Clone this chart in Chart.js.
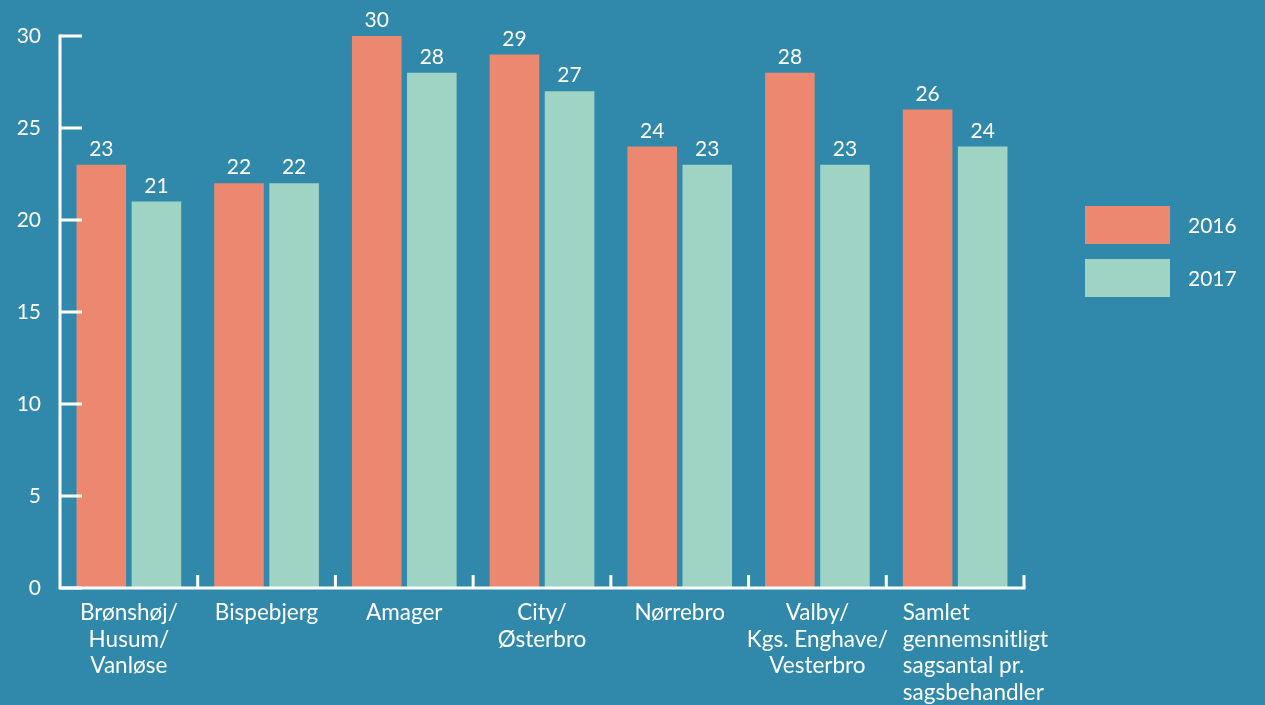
<!DOCTYPE html>
<html>
<head>
<meta charset="utf-8">
<script src="https://cdn.jsdelivr.net/npm/chart.js@4/dist/chart.umd.min.js"></script>
<style>
    html, body { margin: 0; padding: 0; background: #3089ab; }
    #wrap { width: 1265px; height: 705px; }
</style>
</head>
<body>
<div id="wrap"><canvas id="caseChart" width="1265" height="705"></canvas></div>
<script>
const districts = [
    ["Brønshøj/", "Husum/", "Vanløse"],
    ["Bispebjerg"],
    ["Amager"],
    ["City/", "Østerbro"],
    ["Nørrebro"],
    ["Valby/", "Kgs. Enghave/", "Vesterbro"],
    ["Samlet", "gennemsnitligt", "sagsantal pr.", "sagsbehandler"]
];
const values2016 = [23, 22, 30, 29, 24, 28, 26];
const values2017 = [21, 22, 28, 27, 23, 23, 24];
const yTicks = [0, 5, 10, 15, 20, 25, 30];

const fontFamily = "Lato, 'Open Sans', sans-serif";
const white = "#ffffff";

// axis lines, tick marks, category labels, value labels and the legend
const decorations = {
    id: "decorations",
    afterDatasetsDraw(chart) {
        const { ctx, chartArea, scales } = chart;
        const x = scales.x;
        const y = scales.y;
        const left = chartArea.left;
        const base = y.getPixelForValue(0);
        const top = y.getPixelForValue(yTicks[yTicks.length - 1]);

        ctx.save();
        ctx.strokeStyle = white;
        ctx.lineWidth = 3;
        ctx.beginPath();
        ctx.moveTo(left, top - 1.5);
        ctx.lineTo(left, base);
        ctx.lineTo(chartArea.right + 1.5, base);
        ctx.stroke();

        ctx.beginPath();
        yTicks.forEach((v) => {
            const py = y.getPixelForValue(v);
            ctx.moveTo(left, py);
            ctx.lineTo(left + 22, py);
        });
        const step = (chartArea.right - left) / districts.length;
        for (let i = 1; i <= districts.length; i += 1) {
            const px = left + step * i;
            ctx.moveTo(px, base);
            ctx.lineTo(px, base - 13);
        }
        ctx.stroke();

        // values above the bars
        ctx.fillStyle = white;
        ctx.font = "21px " + fontFamily;
        ctx.textAlign = "center";
        ctx.textBaseline = "bottom";
        chart.data.datasets.forEach((ds, di) => {
            chart.getDatasetMeta(di).data.forEach((bar, i) => {
                ctx.fillText(String(ds.data[i]), bar.x, bar.y - 5);
            });
        });

        // category labels, the last one starts at its first bar
        ctx.font = "22.5px " + fontFamily;
        ctx.textBaseline = "middle";
        const firstBars = chart.getDatasetMeta(0).data;
        chart.data.labels.forEach((lines, i) => {
            const last = i === chart.data.labels.length - 1;
            ctx.textAlign = last ? "left" : "center";
            const px = last ? firstBars[i].x - firstBars[i].width / 2 : x.getPixelForTick(i);
            lines.forEach((line, k) => {
                ctx.fillText(line, px, base + 25 + k * 26.5);
            });
        });

        // legend
        ctx.font = "21px " + fontFamily;
        ctx.textAlign = "left";
        chart.data.datasets.forEach((ds, di) => {
            const by = 206 + di * 53;
            ctx.fillStyle = ds.backgroundColor;
            ctx.fillRect(1085, by, 85, 38);
            ctx.fillStyle = white;
            ctx.fillText(ds.label, 1188, by + 20);
        });
        ctx.restore();
    }
};

new Chart(document.getElementById("caseChart"), {
    type: "bar",
    data: {
        labels: districts,
        datasets: [
            { label: "2016", data: values2016, backgroundColor: "#ec8870" },
            { label: "2017", data: values2017, backgroundColor: "#9fd3c4" }
        ]
    },
    options: {
        responsive: false,
        animation: false,
        categoryPercentage: 0.8,
        barPercentage: 0.9,
        layout: { padding: { top: 36, right: 241, bottom: 0, left: 0 } },
        plugins: {
            legend: { display: false },
            tooltip: { enabled: false }
        },
        scales: {
            x: {
                grid: { display: false, drawTicks: false },
                border: { display: false },
                afterFit: (scale) => { scale.height = 117; },
                ticks: { display: false, autoSkip: false }
            },
            y: {
                min: 0,
                max: 30,
                grid: { display: false, drawTicks: false },
                border: { display: false },
                afterFit: (scale) => { scale.width = 60; },
                ticks: {
                    stepSize: 5,
                    color: white,
                    padding: 19,
                    font: { family: fontFamily, size: 21 }
                }
            }
        }
    },
    plugins: [decorations]
});
</script>
</body>
</html>
